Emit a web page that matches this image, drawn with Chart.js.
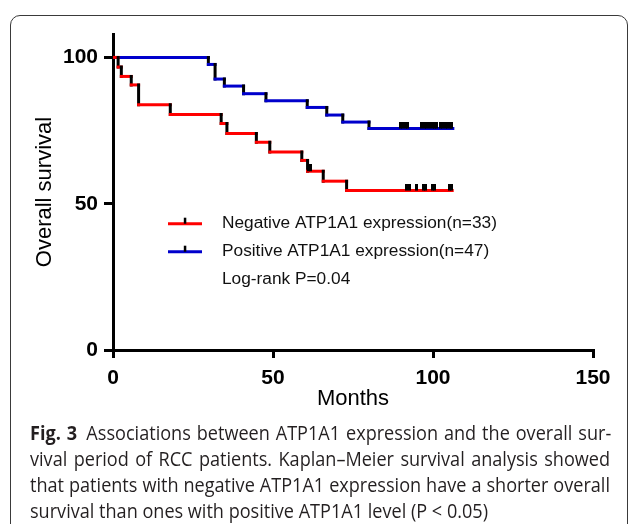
<!DOCTYPE html>
<html>
<head>
<meta charset="utf-8">
<script src="https://cdn.jsdelivr.net/npm/chart.js@4.4.1/dist/chart.umd.min.js"></script>
<style>
html,body{margin:0;padding:0;width:629px;height:524px;overflow:hidden;background:#fff}
#frame{position:absolute;left:10px;top:15px;width:618px;height:580px;border:1px solid #3a3a3a;border-radius:10px;box-sizing:border-box}
#c{position:absolute;left:0;top:0}
#caption{position:absolute;left:30px;top:420px;width:600px;font-family:"Open Sans",sans-serif;font-size:19.5px;line-height:26px;color:#231f20}
.ln{white-space:nowrap;transform-origin:0 50%;}
.ln span.in{display:inline-block}
.fig{font-weight:bold;margin-right:10px}
</style>
</head>
<body>
<div id="frame"></div>
<canvas id="c" width="629" height="524"></canvas>
<div id="caption">
  <div class="ln"><span class="in"><span class="fig">Fig. 3</span><span class="tx">Associations between ATP1A1 expression and the overall sur-</span></span></div>
  <div class="ln"><span class="in"><span class="tx">vival period of RCC patients. Kaplan–Meier survival analysis showed</span></span></div>
  <div class="ln"><span class="in"><span class="tx">that patients with negative ATP1A1 expression have a shorter overall</span></span></div>
  <div class="ln"><span class="in"><span class="tx">survival than ones with positive ATP1A1 level (P &lt; 0.05)</span></span></div>
</div>
<script>
// ---- data ----
const xTicks = [0, 50, 100, 150];
const yTicks = [0, 50, 100];
const legendLabels = ['Negative ATP1A1 expression(n=33)', 'Positive ATP1A1 expression(n=47)'];
const pValueLabel = 'Log-rank P=0.04';

// Negative ATP1A1 expression: event times (months) and survival (%) after each event
const negTimes = [0, 1.6, 2.6, 5.7, 8.0, 17.9, 33.8, 35.6, 44.8, 49.0, 59.0, 60.8, 65.7, 73.0];
const negSurv  = [100, 96.7, 93.5, 90.6, 83.8, 80.5, 77.4, 74.0, 71.0, 67.7, 64.8, 61.1, 57.7, 54.5];
const negEnd = 106.0;
const negCensor = [61.0, 61.6, 91.8, 92.5, 94.9, 96.9, 97.6, 99.8, 100.5, 105.0, 105.7];

// Positive ATP1A1 expression
const posTimes = [0, 29.8, 31.9, 34.8, 40.8, 47.8, 60.7, 66.8, 71.8, 80.0];
const posSurv  = [100, 97.6, 92.6, 90.2, 87.6, 85.2, 82.9, 80.3, 77.9, 75.7];
const posEnd = 106.2;
const posCensor = [89.7, 90.5, 91.3, 92.1, 96.5, 97.3, 98.1, 98.9, 99.7, 100.5, 101.2, 102.2, 103.0, 103.8, 104.6, 105.4, 105.9];

// ---- helpers building library data from the arrays ----
function stepPoints(times, surv, end) {
  const pts = [{x: times[0], y: surv[0]}];
  for (let i = 1; i < times.length; i++) {
    pts.push({x: times[i], y: surv[i - 1]});
    pts.push({x: times[i], y: surv[i]});
  }
  pts.push({x: end, y: surv[surv.length - 1]});
  return pts;
}
function levelAt(times, surv, t) {
  let v = surv[0];
  for (let i = 0; i < times.length; i++) if (times[i] <= t) v = surv[i];
  return v;
}
function censorPoints(times, surv, cens) {
  return cens.map(t => ({x: t, y: levelAt(times, surv, t)}));
}
function makeTick() {
  const c = document.createElement('canvas');
  c.width = 3; c.height = 14;
  const g = c.getContext('2d');
  g.fillStyle = '#000';
  g.fillRect(0, 0, 3, 7);
  return c;
}
const tickImg = makeTick();
const RED = '#ff0000', BLUE = '#0000cc';

const legendPlugin = {
  id: 'kmLegend',
  afterDraw(chart) {
    const c = chart.ctx, a = chart.chartArea;
    const x0 = a.left + 55, x1 = a.left + 89, tx = a.left + 109;
    const y0 = chart.scales.y.getPixelForValue(50) + 20;
    const colors = [RED, BLUE];
    c.save();
    c.font = '17.3px "Liberation Sans", Arial, sans-serif';
    c.textBaseline = 'middle';
    c.fillStyle = '#111';
    legendLabels.forEach((lab, i) => {
      const yy = y0 + i * 28;
      c.strokeStyle = colors[i];
      c.lineWidth = 3;
      c.beginPath(); c.moveTo(x0, yy); c.lineTo(x1, yy); c.stroke();
      c.fillStyle = '#000';
      c.fillRect((x0 + x1) / 2 - 1.2, yy - 6, 2.5, 6);
      c.fillStyle = '#111';
      c.fillText(lab, tx, yy);
    });
    c.fillText(pValueLabel, tx, y0 + 56);
    c.restore();
  }
};

const tickFont = {family: '"Liberation Sans", Arial, sans-serif', size: 21, weight: 'bold'};
const titleFont = {family: '"Liberation Sans", Arial, sans-serif', size: 22, weight: 'normal'};

new Chart(document.getElementById('c'), {
  type: 'line',
  data: {
    datasets: [
      {label: 'negCensor', data: censorPoints(negTimes, negSurv, negCensor), showLine: false,
       pointStyle: tickImg, pointRadius: 3, order: 0},
      {label: 'posCensor', data: censorPoints(posTimes, posSurv, posCensor), showLine: false,
       pointStyle: tickImg, pointRadius: 3, order: 0},
      {label: legendLabels[0], data: stepPoints(negTimes, negSurv, negEnd), borderColor: RED,
       borderWidth: 3, pointRadius: 0, tension: 0, fill: false, borderCapStyle: 'square', order: 1,
       segment: {borderColor: s => s.p0.parsed.x === s.p1.parsed.x ? '#000' : RED}},
      {label: legendLabels[1], data: stepPoints(posTimes, posSurv, posEnd), borderColor: BLUE,
       borderWidth: 3, pointRadius: 0, tension: 0, fill: false, borderCapStyle: 'square', order: 2,
       segment: {borderColor: s => s.p0.parsed.x === s.p1.parsed.x ? '#000' : BLUE}}
    ]
  },
  options: {
    responsive: false,
    animation: false,
    devicePixelRatio: 1,
    layout: {padding: {left: 31, right: 36, top: 34, bottom: 112}},
    plugins: {legend: {display: false}, tooltip: {enabled: false}},
    scales: {
      x: {
        type: 'linear', min: 0, max: 150,
        afterBuildTicks: s => { s.ticks = xTicks.map(v => ({value: v})); },
        afterFit: s => { s.height = 62; },
        border: {color: '#000', width: 3},
        grid: {drawOnChartArea: false, drawTicks: true, color: '#000', lineWidth: 3, tickLength: 8},
        ticks: {color: '#000', font: tickFont, padding: 8, maxRotation: 0, autoSkip: false},
        title: {display: true, text: 'Months', color: '#000', font: titleFont, padding: {top: 0, bottom: 0}}
      },
      y: {
        type: 'linear', min: 0, max: 108,
        afterBuildTicks: s => { s.ticks = yTicks.map(v => ({value: v})); },
        afterFit: s => { s.width = 82; },
        border: {color: '#000', width: 3},
        grid: {drawOnChartArea: false, drawTicks: true, color: '#000', lineWidth: 3, tickLength: 9},
        ticks: {color: '#000', font: tickFont, padding: 6, autoSkip: false},
        title: {display: true, text: 'Overall survival', color: '#000', font: titleFont, padding: {top: 1, bottom: 0}}
      }
    }
  },
  plugins: [legendPlugin]
});

// ---- caption justification (condensed to mimic the journal font) ----
(function () {
  const lines = Array.from(document.querySelectorAll('#caption .ln'));
  const widths = lines.map(l => l.querySelector('.in').getBoundingClientRect().width);
  const k = 458 / widths[3];
  const target = 580;
  lines.forEach((l, i) => {
    if (i < 3) {
      const txt = l.querySelector('.tx').textContent;
      const n = (txt.match(/ /g) || []).length;
      const ws = (target / k - widths[i]) / n;
      l.style.wordSpacing = ws + 'px';
    }
    l.style.transform = 'scaleX(' + k + ')';
  });
})();
</script>
</body>
</html>
